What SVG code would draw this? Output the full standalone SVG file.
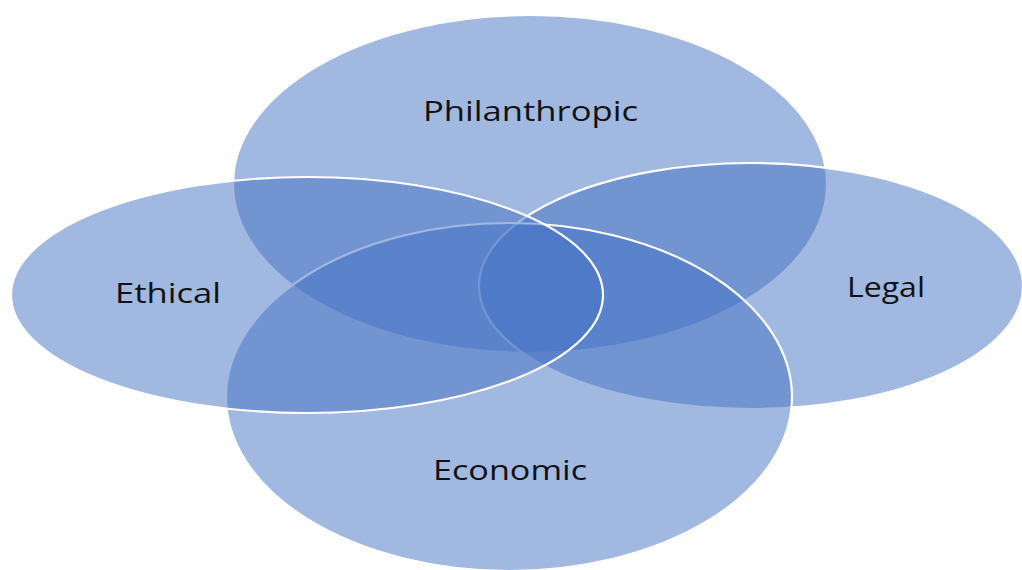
<svg xmlns="http://www.w3.org/2000/svg" width="1022" height="570" viewBox="0 0 1022 570">
<style>
.c{fill:#4472C4;fill-opacity:0.5;stroke:#ffffff;stroke-width:2.2}
.t{font-family:"Open Sans","Liberation Sans",sans-serif;font-size:28px;fill:#111111;text-anchor:start}
</style>
<rect width="1022" height="570" fill="#ffffff"/>
<g id="philanthropic">
<ellipse class="c" cx="530" cy="184" rx="297" ry="169"/>
</g>
<g id="legal">
<ellipse class="c" cx="751" cy="286" rx="272" ry="123"/>
</g>
<g id="economic">
<ellipse class="c" cx="509" cy="397" rx="283" ry="174"/>
</g>
<g id="ethical">
<ellipse class="c" cx="307" cy="295" rx="296" ry="118"/>
</g>
<g id="labels">
<text class="t" x="423" y="121" textLength="215" lengthAdjust="spacingAndGlyphs">Philanthropic</text>
<text class="t" x="115" y="303" textLength="106" lengthAdjust="spacingAndGlyphs">Ethical</text>
<text class="t" x="847" y="297" textLength="78" lengthAdjust="spacingAndGlyphs">Legal</text>
<text class="t" x="433" y="480" textLength="154" lengthAdjust="spacingAndGlyphs">Economic</text>
</g>
<g id="connectors"/>
</svg>
